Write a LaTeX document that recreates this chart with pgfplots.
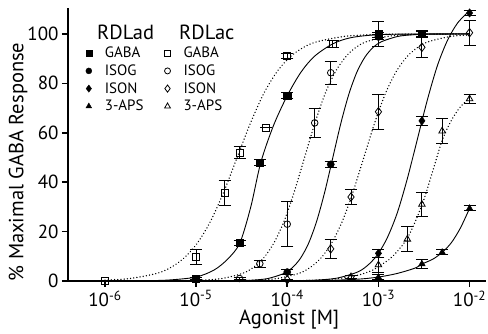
\documentclass[border=0pt]{standalone}
\usepackage{pgfplots}
\pgfplotsset{compat=1.18}
\usepackage{fontspec}
\setmainfont{PT Sans}
\begin{document}
\begin{tikzpicture}
\useasboundingbox (-68pt,-53pt) rectangle (420pt,281pt);
\begin{axis}[
 width=418pt, height=273pt, scale only axis,
 xmin=-6.405, xmax=-1.82, ymin=0, ymax=110.5,
 axis lines*=left,
 axis line style={line width=1.6pt},
 tick align=outside, major tick length=6pt,
 every tick/.style={black, line width=1.6pt},
 xtick={-6,-5,-4,-3,-2},
 xticklabels={10\textsuperscript{-6},10\textsuperscript{-5},10\textsuperscript{-4},10\textsuperscript{-3},10\textsuperscript{-2}},
 ytick={0,20,40,60,80,100},
 /pgf/number format/assume math mode=true,
 tick label style={font=\fontsize{19}{22}\selectfont},
 xlabel={Agonist [M]},
 ylabel={\% Maximal GABA Response},
 label style={font=\fontsize{20.5}{24}\selectfont},
 xlabel style={at={(axis description cs:0.529,0)}, anchor=center, yshift=-39pt},
 ylabel style={at={(axis description cs:0,0.436)}, anchor=center, yshift=50pt},
 clip=false,
 legend columns=2,
 legend cell align=left,
 legend style={draw=none, fill=none, at={(axis description cs:0.035,0.872)}, anchor=north west,
   font=\fontsize{15}{18}\selectfont, row sep=1.5pt,
   /tikz/every odd column/.append style={column sep=11pt},
   /tikz/every even column/.append style={column sep=19pt}},
 curve/.style={black, line width=0.9pt, smooth, no marks},
 dots/.style={black, line width=1.5pt, smooth, no marks, dash pattern=on 0.01pt off 3.2pt, line cap=round},
 data/.style={only marks, black,
   error bars/y dir=both, error bars/y explicit,
   error bars/error bar style={line width=0.9pt, black, solid},
   error bars/error mark options={rotate=90, black, mark size=6pt, line width=0.9pt, solid}},
]
% fitted curves
\addplot[dots, forget plot] coordinates {(-6,0.34) (-5.726,0.99) (-5.432,3.06) (-5.285,5.32) (-5.138,9.09) (-4.991,15.1) (-4.844,24.0) (-4.697,36.0) (-4.55,50) (-4.403,64) (-4.256,76) (-4.109,84.9) (-3.962,90.9) (-3.815,94.7) (-3.668,96.9) (-3.374,99.0) (-3.079,99.7) (-2.785,99.9) (-2,100)};
\addplot[curve, forget plot] coordinates {(-6,0) (-5.6,0.1) (-5.3,0.4) (-5.0,1.6) (-4.8,4.5) (-4.65,9) (-4.52,15.4) (-4.4,30) (-4.29,48) (-4.15,63) (-4.0,75) (-3.85,84.5) (-3.7,91) (-3.5,96) (-3.3,98.5) (-3.0,99.7) (-2.5,100) (-2,100)};
\addplot[dots, forget plot] coordinates {(-5.174,0.1) (-4.946,0.32) (-4.719,0.99) (-4.492,3.06) (-4.378,5.32) (-4.265,9.09) (-4.151,15.1) (-4.037,24) (-3.924,36) (-3.81,50) (-3.696,64) (-3.583,76) (-3.469,84.9) (-3.355,90.9) (-3.242,94.7) (-3.128,96.9) (-2.901,99) (-2.674,99.7) (-2.446,99.9) (-2,100)};
\addplot[curve, forget plot] coordinates {(-4.571,0.1) (-4.393,0.32) (-4.214,0.99) (-4.036,3.06) (-3.946,5.32) (-3.857,9.09) (-3.768,15.1) (-3.679,24) (-3.589,36) (-3.5,50) (-3.411,64) (-3.321,76) (-3.232,84.9) (-3.143,90.9) (-3.054,94.7) (-2.964,96.9) (-2.786,99) (-2.607,99.7) (-2.429,99.9) (-2,100)};
\addplot[dots, forget plot] coordinates {(-4.589,0.1) (-4.35,0.32) (-4.112,0.99) (-3.874,3.06) (-3.755,5.32) (-3.636,9.09) (-3.517,15.1) (-3.398,24) (-3.279,36) (-3.16,50) (-3.041,64) (-2.922,76) (-2.803,84.9) (-2.684,90.9) (-2.565,94.7) (-2.446,96.9) (-2.208,99) (-2,99.6)};
\addplot[curve, forget plot] coordinates {(-3.899,0.12) (-3.678,0.37) (-3.457,1.14) (-3.236,3.52) (-3.125,6.12) (-3.014,10.45) (-2.904,17.4) (-2.793,27.6) (-2.683,41.4) (-2.572,57.5) (-2.461,73.6) (-2.351,87.4) (-2.24,97.6) (-2.13,104.5) (-2,109.4)};
\addplot[dots, forget plot] coordinates {(-4,0) (-3.6,0.5) (-3.3,1.7) (-3.1,3.8) (-3.0,5.8) (-2.85,9.8) (-2.68,17.5) (-2.52,31) (-2.4,45) (-2.3,57) (-2.2,65) (-2.1,70.5) (-2.0,74)};
\addplot[curve, forget plot] coordinates {(-3.8,0.1) (-3.5,0.3) (-3.2,0.8) (-3.0,1.6) (-2.8,3) (-2.6,5.2) (-2.52,6.9) (-2.4,8.9) (-2.3,11.6) (-2.2,15.5) (-2.1,21.5) (-2.0,29.4)};
% data points: RDLac (open)
\addplot[data, mark=square, mark size=3.5pt, mark options={fill=white, line width=0.8pt}, forget plot] table[x=x,y=y,y error=e] {
x y e
-6 0 0
-5 9.7 3
-4.686 35.6 5
-4.523 52 2.5
-4.23 62 0
-4 91 1
-3.5 96 1.5
-3 99.5 1
-2.523 100 1
};
\addplot[data, mark=o, mark size=3.3pt, mark options={fill=white, line width=0.8pt}, forget plot] table[x=x,y=y,y error=e] {
x y e
-4.523 1 0.5
-4.301 7 1.5
-4 23 9
-3.699 64 6
-3.523 84.3 4.7
-3 99.5 1
};
\addplot[data, mark=diamond, mark size=4.2pt, mark options={fill=white, line width=0.8pt}, forget plot] table[x=x,y=y,y error=e] {
x y e
-4 0.5 0.3
-3.523 13 4
-3.301 34 3
-3 68.5 7
-2.523 94.6 4
-2 100.5 5
};
\addplot[data, mark=triangle, mark size=3.8pt, mark options={fill=white, line width=0.8pt}, forget plot] table[x=x,y=y,y error=e] {
x y e
-3.301 1.7 0.5
-3 6.5 3
-2.683 16.9 5
-2.523 31 5
-2.301 60.7 5
-2 73.7 2
};
% data points: RDLad (filled)
\addplot[data, mark=square*, mark size=3.6pt, forget plot] table[x=x,y=y,y error=e] {
x y e
-5 1 0.5
-4.523 15.4 1.2
-4.301 47.8 1.2
-4 75 1.2
-3 100 5
-2.523 100 1.5
};
\addplot[data, mark=*, mark size=3.6pt, forget plot] table[x=x,y=y,y error=e] {
x y e
-4 3.6 1
-3.523 47.2 1.2
-3 98.8 1
};
\addplot[data, mark=diamond*, mark size=4.2pt, forget plot] table[x=x,y=y,y error=e] {
x y e
-3 11.2 1.5
-2.523 64.8 2
-2 108.5 1
};
\addplot[data, mark=triangle*, mark size=3.8pt, forget plot] table[x=x,y=y,y error=e] {
x y e
-3 1.5 1
-2.523 6.9 2
-2.301 11.6 1
-2 29.4 1
};
% legend headings
\node[anchor=base west, font=\fontsize{20.5}{24}\selectfont, inner sep=0pt] at (axis description cs:0.0694,0.883) {RDLad};
\node[anchor=base west, font=\fontsize{20.5}{24}\selectfont, inner sep=0pt] at (axis description cs:0.2656,0.883) {RDLac};
% legend
\addlegendimage{only marks, black, mark=square*, mark size=3pt}
\addlegendentry{GABA}
\addlegendimage{only marks, black, mark=square, mark size=3pt, mark options={line width=0.8pt}}
\addlegendentry{GABA}
\addlegendimage{only marks, black, mark=*, mark size=3pt}
\addlegendentry{ISOG}
\addlegendimage{only marks, black, mark=o, mark size=3pt, mark options={line width=0.8pt}}
\addlegendentry{ISOG}
\addlegendimage{only marks, black, mark=diamond*, mark size=3.6pt}
\addlegendentry{ISON}
\addlegendimage{only marks, black, mark=diamond, mark size=3.6pt, mark options={line width=0.8pt}}
\addlegendentry{ISON}
\addlegendimage{only marks, black, mark=triangle*, mark size=3.3pt}
\addlegendentry{3-APS}
\addlegendimage{only marks, black, mark=triangle, mark size=3.3pt, mark options={line width=0.8pt}}
\addlegendentry{3-APS}
\end{axis}
\end{tikzpicture}
\end{document}
